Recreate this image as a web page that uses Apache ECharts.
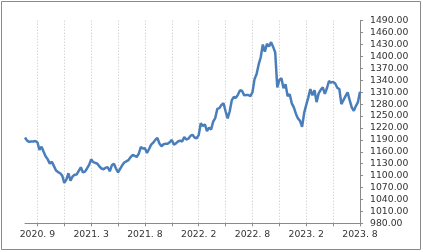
<!DOCTYPE html>
<html>
<head>
<meta charset="utf-8">
<script src="https://cdn.jsdelivr.net/npm/echarts@6/dist/echarts.min.js"></script>
<style>
html,body{margin:0;padding:0;background:#fff;}
#chart{width:423px;height:252px;}
</style>
</head>
<body>
<div id="chart"></div>
<script>
// tick labels on the time axis (one every second gridline)
const tickLabels = ['2020. 9', '2021. 3', '2021. 8', '2022. 2', '2022. 8', '2023. 2', '2023. 8'];
// y-axis range
const yMin = 980, yMax = 1490, yStep = 30;
// series values (evenly spaced in time)
const values = [
  1196, 1188, 1185, 1186, 1186, 1187, 1184, 1165, 1173, 1160,
  1148, 1141, 1130, 1135, 1124, 1113, 1109, 1106, 1100, 1082,
  1090, 1106, 1087, 1098, 1102, 1103, 1112, 1121, 1108, 1110,
  1118, 1127, 1141, 1134, 1132, 1130, 1123, 1118, 1116, 1120,
  1121, 1111, 1126, 1130, 1118, 1108, 1117, 1126, 1133, 1136,
  1139, 1146, 1152, 1150, 1147, 1155, 1172, 1168, 1169, 1157,
  1167, 1178, 1183, 1190, 1195, 1181, 1174, 1179, 1180, 1180,
  1184, 1190, 1178, 1181, 1186, 1188, 1186, 1197, 1191, 1193,
  1200, 1203, 1196, 1194, 1202, 1232, 1225, 1229, 1212, 1221,
  1216, 1236, 1245, 1268, 1270, 1278, 1282, 1262, 1244, 1262,
  1290, 1298, 1296, 1304, 1315, 1313, 1302, 1303, 1303, 1300,
  1310, 1343, 1356, 1380, 1398, 1430, 1412, 1432, 1425, 1436,
  1424, 1410, 1322, 1341, 1345, 1320, 1330, 1300, 1305, 1282,
  1272, 1256, 1244, 1238, 1223, 1258, 1278, 1297, 1318, 1302,
  1315, 1285, 1307, 1316, 1322, 1306, 1320, 1338, 1334, 1336,
  1332, 1321, 1318, 1280, 1290, 1300, 1310, 1290, 1272, 1263,
  1275, 1285, 1311
];
const categories = values.map((_, i) => String(i));
const firstTick = 6, tickEvery = 13;

const isTick = i => i >= firstTick && (i - firstTick) % tickEvery === 0;
const isLabel = i => i >= firstTick && (i - firstTick) % (tickEvery * 2) === 0;

const chart = echarts.init(document.getElementById('chart'), null, {renderer: 'canvas'});
const font = 'DejaVu Sans';
chart.setOption({
  animation: false,
  backgroundColor: '#ffffff',
  grid: {left: 25, right: 63, top: 20.7, bottom: 28.7, containLabel: false},
  graphic: [{
    type: 'rect',
    shape: {x: 1.5, y: 1.5, width: 419, height: 248},
    style: {fill: 'none', stroke: '#8a8a8a', lineWidth: 1},
    silent: true
  }],
  xAxis: {
    type: 'category',
    data: categories,
    boundaryGap: false,
    axisLine: {show: true, lineStyle: {color: '#8a8a8a', width: 1}},
    axisTick: {show: true, interval: (i) => isTick(i), length: 3, lineStyle: {color: '#8a8a8a'}},
    splitLine: {show: true, interval: (i) => isTick(i), lineStyle: {color: '#c4c4c4', type: [1, 2], width: 1}},
    axisLabel: {
      interval: (i) => isLabel(i),
      formatter: (v, i) => isLabel(i) ? tickLabels[(i - firstTick) / (tickEvery * 2)] : '',
      color: '#333', fontFamily: font, fontSize: 9.3, margin: 7
    }
  },
  yAxis: {
    type: 'value',
    position: 'right',
    min: yMin, max: yMax, interval: yStep,
    axisLine: {show: true, lineStyle: {color: '#8a8a8a', width: 1}},
    axisTick: {show: true, length: 3, lineStyle: {color: '#8a8a8a'}},
    splitLine: {show: false},
    axisLabel: {
      formatter: v => v.toFixed(2),
      color: '#333', fontFamily: font, fontSize: 9.3, margin: 10
    }
  },
  series: [{
    type: 'line',
    data: values,
    symbol: 'none',
    lineStyle: {color: '#4a7ebb', width: 2.5},
    itemStyle: {color: '#4a7ebb'}
  }]
});
</script>
</body>
</html>
